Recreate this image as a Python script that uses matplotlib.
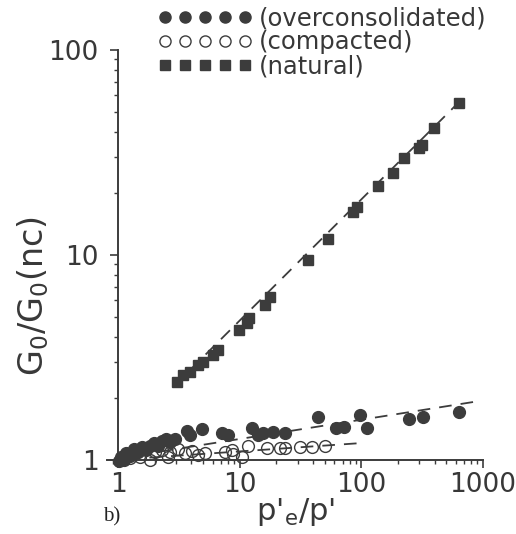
import matplotlib
matplotlib.use("Agg")
import matplotlib.pyplot as plt
from matplotlib.lines import Line2D
import numpy as np

# ---------------- data ----------------
nat_x = [3.04, 3.41, 3.89, 4.53, 4.97, 6.01, 6.60, 9.81, 11.4, 11.9, 16.0, 17.6,
         36.1, 53.6, 86.0, 92.7, 138, 183, 225, 299, 316, 397, 636]
nat_y = [2.40, 2.60, 2.69, 2.91, 3.01, 3.25, 3.44, 4.31, 4.66, 4.93, 5.70, 6.24,
         9.45, 11.97, 16.2, 17.1, 21.7, 25.1, 29.7, 33.2, 34.4, 41.7, 55.1]

oc_x = [1.02, 1.06, 1.12, 1.16, 1.25, 1.35, 1.46, 1.57, 1.70, 1.83, 1.97, 2.13,
        2.29, 2.47, 2.67, 2.93, 3.68, 3.89, 4.88, 7.12, 7.97, 12.5, 14.0, 15.4,
        18.6, 23.4, 43.6, 62.4, 72.6, 98.1, 112, 247, 322, 636]
oc_y = [0.99, 1.03, 1.00, 1.08, 1.05, 1.13, 1.09, 1.16, 1.12, 1.17, 1.21, 1.17,
        1.24, 1.27, 1.22, 1.27, 1.38, 1.32, 1.42, 1.35, 1.32, 1.43, 1.32, 1.35,
        1.37, 1.35, 1.62, 1.43, 1.45, 1.66, 1.43, 1.58, 1.62, 1.71]

cp_x = [1.25, 1.51, 1.83, 2.01, 2.29, 2.57, 2.67, 3.10, 3.54, 4.04, 4.53, 5.17,
        7.53, 8.60, 8.77, 10.4, 11.6, 16.6, 21.3, 23.4, 31.0, 38.9, 49.8]
cp_y = [1.02, 1.03, 1.00, 1.09, 1.12, 1.03, 1.09, 1.13, 1.08, 1.11, 1.06, 1.08,
        1.09, 1.12, 1.07, 1.03, 1.17, 1.14, 1.14, 1.14, 1.16, 1.16, 1.17]

# trend lines (end points)
nat_fit_x = [2.93, 660]
nat_fit_y = [2.32, 57.0]
oc_fit_x = [1.0, 840]
oc_fit_y = [1.02, 1.92]
cp_fit_x = [1.2, 101]
cp_fit_y = [1.01, 1.21]

legend_labels = ["(overconsolidated)", "(compacted)", "(natural)"]
x_ticks = [1, 10, 100, 1000]
y_ticks = [1, 10, 100]

# ---------------- figure ----------------
ink = "#3c3c3c"
txt = "#383838"
plt.rcParams["font.family"] = ["DejaVu Sans"]
fig = plt.figure(figsize=(5.16, 5.34), dpi=100)
ax = fig.add_axes([0.2074, 0.1386, 0.7287, 0.7678])
ax.set_xscale("log")
ax.set_yscale("log")
ax.set_xlim(0.81, 1000)
ax.set_ylim(1, 100)

dash = (0, (7, 5))
ax.plot(nat_fit_x, nat_fit_y, ls=dash, color=ink, lw=1.3, zorder=2)
ax.plot(oc_fit_x, oc_fit_y, ls=dash, color=ink, lw=1.3, zorder=2)
ax.plot(cp_fit_x, cp_fit_y, ls=dash, color=ink, lw=1.3, zorder=2)

h_oc, = ax.plot(oc_x, oc_y, ls="none", marker="o", ms=8.5, mfc=ink, mec=ink,
                clip_on=False, zorder=3)
h_cp, = ax.plot(cp_x, cp_y, ls="none", marker="o", ms=8.5, mfc="none", mec=ink,
                mew=1.0, clip_on=False, zorder=3)
h_nat, = ax.plot(nat_x, nat_y, ls="none", marker="s", ms=7.8, mfc=ink, mec=ink,
                 clip_on=False, zorder=3)

for s in ["top", "right"]:
    ax.spines[s].set_visible(False)
ax.spines["left"].set_position(("data", 1))
for s in ["left", "bottom"]:
    ax.spines[s].set_color(ink)
    ax.spines[s].set_linewidth(1.4)

ax.set_xticks(x_ticks)
ax.set_xticklabels([str(v) for v in x_ticks])
ax.set_yticks(y_ticks)
ax.set_yticklabels([str(v) for v in y_ticks])
ax.tick_params(which="major", length=6, width=1.2, color=ink, labelsize=19,
               labelcolor=txt)
ax.tick_params(which="minor", length=3, width=1.0, color=ink)
ax.tick_params(axis="x", which="major", pad=3)
ax.tick_params(axis="y", which="major", pad=8)

ax.set_xlabel("p'$_\\mathregular{e}$/p'", fontsize=22, color=txt, labelpad=-2)
ax.set_ylabel(r"$\mathregular{G_0/G_0(nc)}$", fontsize=24, color=txt)
ax.yaxis.set_label_coords(-0.15, 0.40)

handles = [
    Line2D([], [], ls="none", marker="o", ms=8, mfc=ink, mec=ink),
    Line2D([], [], ls="none", marker="o", ms=8, mfc="none", mec=ink, mew=1.0),
    Line2D([], [], ls="none", marker="s", ms=7.5, mfc=ink, mec=ink),
]
fig.legend(handles, legend_labels, loc="upper left", bbox_to_anchor=(0.296, 0.997),
           numpoints=5, handlelength=3.9, handletextpad=0.25, labelspacing=0.0,
           frameon=False, fontsize=17.5, labelcolor=txt, borderpad=0.2,
           borderaxespad=0.0)

fig.text(0.2, 0.023, "b)", fontsize=15, family="Liberation Serif", color="#222222")

fig.savefig("out.png", dpi=100, facecolor="white")
